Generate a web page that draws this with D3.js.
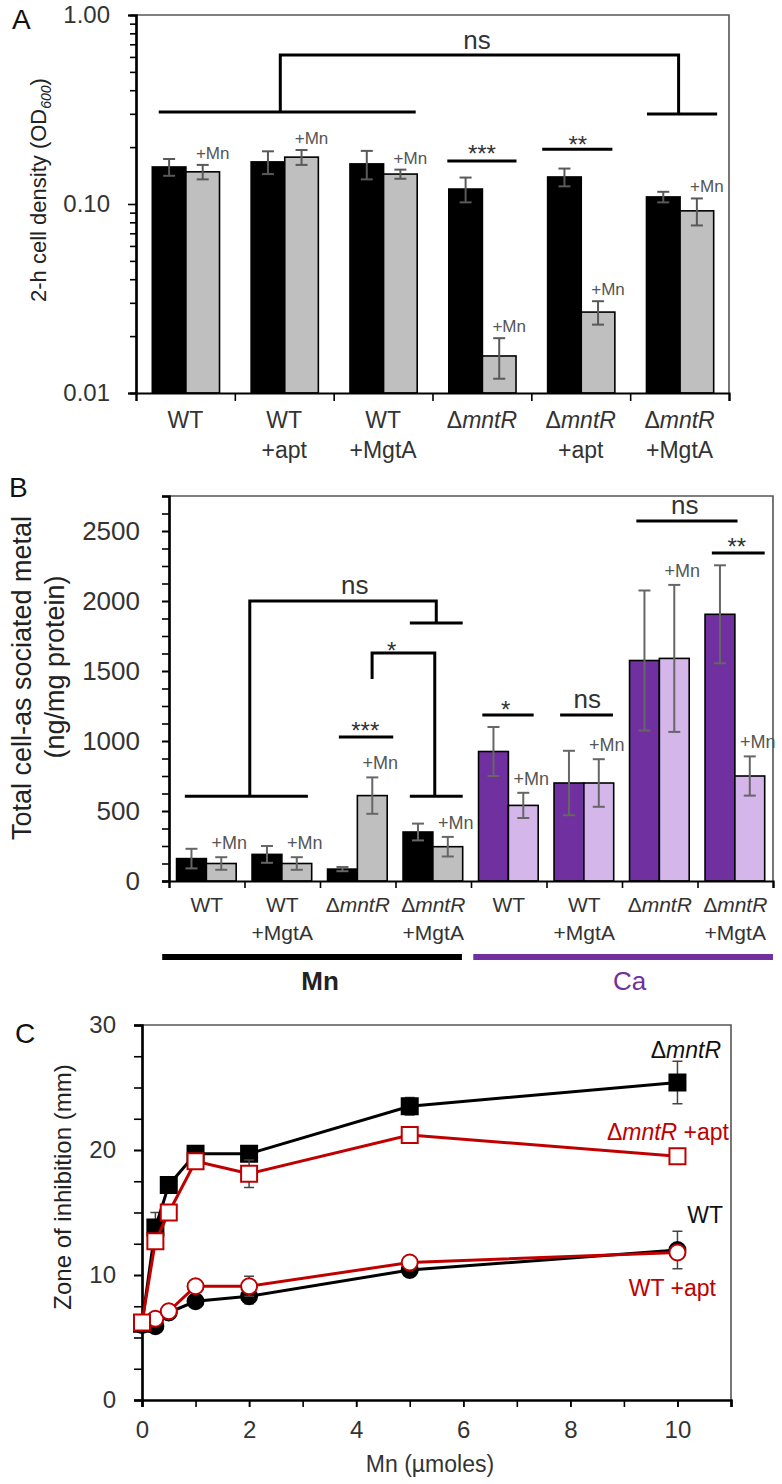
<!DOCTYPE html>
<html><head><meta charset="utf-8">
<script src="https://cdn.jsdelivr.net/npm/d3@7"></script>
<style>
body{margin:0;background:#fff}
text{font-family:"Liberation Sans",Arial,sans-serif}
</style>
</head><body>
<svg id="c" width="782" height="1484"></svg>
<script>
// ---------------- DATA ----------------
// Panel A
const catsA = ["WT","WT +apt","WT +MgtA","ΔmntR","ΔmntR +apt","ΔmntR +MgtA"];
const aNoMn    = [0.157,0.167,0.163,0.120,0.139,0.109];
const aNoMnErr = [0.016,0.023,0.028,0.018,0.015,0.007];
const aMn      = [0.148,0.177,0.144,0.0157,0.0268,0.092];
const aMnErr   = [0.013,0.016,0.008,0.0038,0.0038,0.015];
const aTicksMajor = [0.01,0.1,1];
// Panel B
const catsB  = ["WT","WT +MgtA","ΔmntR","ΔmntR +MgtA","WT","WT +MgtA","ΔmntR","ΔmntR +MgtA"];
const metalB = ["Mn","Mn","Mn","Mn","Ca","Ca","Ca","Ca"];
const bNoMn    = [160,190,85,350,925,700,1575,1905];
const bNoMnErr = [70,60,15,60,175,230,500,350];
const bMn      = [125,125,610,245,540,700,1590,750];
const bMnErr   = [45,45,130,70,90,170,525,140];
const bTicks = [0,500,1000,1500,2000,2500];
// Panel C
const doseC = [0,0.25,0.5,1,2,5,10];
const cMntR       = [6.1,13.8,17.2,19.7,19.7,23.5,25.4];
const cMntRErr    = [0.3,1.2,0.5,0.4,0.6,0.7,1.7];
const cMntRApt    = [6.2,12.7,15.0,19.1,18.1,21.2,19.5];
const cMntRAptErr = [0.3,0.5,0.4,0.5,1.1,0.6,0.5];
const cWT         = [6.0,5.9,7.0,7.9,8.3,10.4,12.0];
const cWTErr      = [0.3,0.3,0.3,0.4,0.6,0.5,1.5];
const cWTApt      = [6.2,6.5,7.1,9.1,9.1,11.0,11.8];
const cWTAptErr   = [0.3,0.3,0.3,0.3,0.8,0.3,0.5];
const cXTicks = [0,2,4,6,8,10];
const cYTicks = [0,10,20,30];

// ---------------- HELPERS ----------------
const svg = d3.select("#c");
const FONT = '"Liberation Sans",Arial,sans-serif';
function rich(sel, str){
  str.split(/(mntR)/).filter(s=>s.length).forEach(p=>{
    sel.append("tspan").attr("font-style", p==="mntR"?"italic":"normal").text(p);
  });
}
function poly(g, pts, color, w){
  g.append("path").attr("d", d3.line()(pts)).attr("fill","none")
   .attr("stroke", color||"#000").attr("stroke-width", w||3).attr("stroke-linejoin","miter");
}
function styleAxis(g, fs){
  g.select(".domain").attr("stroke","#000").attr("stroke-width",2.2);
  g.selectAll(".tick line").attr("stroke","#000").attr("stroke-width",1.6);
  g.selectAll(".tick text").attr("font-size",fs).attr("fill","#333").attr("font-family",FONT);
}
function errBar(g, x, y1, y2, cap, color, w){
  g.append("line").attr("x1",x).attr("x2",x).attr("y1",y1).attr("y2",y2).attr("stroke",color).attr("stroke-width",w);
  [y1,y2].forEach(y=>g.append("line").attr("x1",x-cap/2).attr("x2",x+cap/2).attr("y1",y).attr("y2",y).attr("stroke",color).attr("stroke-width",w));
}

// ---------------- PANEL A ----------------
{
  const A = {l:136, r:729, t:15, b:393};
  const g = svg.append("g");
  const xA = d3.scaleBand().domain(catsA).range([A.l, A.r]);
  const bw = xA.bandwidth();
  const xA1 = d3.scaleBand().domain(["no","mn"]).range([0.165*bw, 0.845*bw]);
  const xU = d3.scaleLinear().domain([0,6]).range([A.l, A.r]);
  const yA = d3.scaleLog().domain([0.01,1]).range([A.b, A.t]);

  // frame
  g.append("path").attr("d", d3.line()([[A.l,A.t],[A.r,A.t],[A.r,A.b]])).attr("fill","none").attr("stroke","#555").attr("stroke-width",1.6);

  catsA.forEach((c,i)=>{
    [["no",aNoMn[i],aNoMnErr[i],"#000"],["mn",aMn[i],aMnErr[i],"#bfbfbf"]].forEach(([s,v,e,col])=>{
      const x = xA(c)+xA1(s);
      g.append("rect").attr("x",x).attr("y",yA(v)).attr("width",xA1.bandwidth()).attr("height",A.b-yA(v))
       .attr("fill",col).attr("stroke","#000").attr("stroke-width",1.6);
    });
  });
  catsA.forEach((c,i)=>{
    [["no",aNoMn[i],aNoMnErr[i]],["mn",aMn[i],aMnErr[i]]].forEach(([s,v,e])=>{
      const cx = xA(c)+xA1(s)+xA1.bandwidth()/2;
      errBar(g, cx, yA(v+e), yA(v-e), 12, "#595959", 2);
    });
    const cx = xA(c)+xA1("mn")+xA1.bandwidth()/2;
    g.append("text").attr("x",cx+10).attr("y",yA(aMn[i]+aMnErr[i])-6).attr("text-anchor","middle")
     .attr("font-size",17).attr("fill","#555").text("+Mn");
  });

  // axes
  const ya = g.append("g").attr("transform",`translate(${A.l},0)`)
    .call(d3.axisLeft(yA).tickValues(aTicksMajor).tickFormat(d3.format(".2f")).tickSize(8).tickPadding(18));
  styleAxis(ya, 24);
  const minor = [];
  [0.01,0.1].forEach(b=>{for(let k=2;k<=9;k++) minor.push(b*k);});
  const ym = g.append("g").attr("transform",`translate(${A.l},0)`)
    .call(d3.axisLeft(yA).tickValues(minor).tickFormat("").tickSize(6));
  styleAxis(ym, 24);
  const xa = g.append("g").attr("transform",`translate(0,${A.b})`)
    .call(d3.axisBottom(xU).tickValues(d3.range(0,7)).tickFormat("").tickSize(8));
  styleAxis(xa, 23);

  catsA.forEach(c=>{
    const lines = c.split(" ");
    lines.forEach((ln,j)=>{
      const t = g.append("text").attr("x",xA(c)+bw/2).attr("y",428+j*30).attr("text-anchor","middle")
        .attr("font-size",23).attr("fill","#333");
      rich(t, ln);
    });
  });

  // y label
  const yl = g.append("text").attr("transform","translate(46,190) rotate(-90)").attr("text-anchor","middle")
    .attr("font-size",22).attr("fill","#222");
  yl.append("tspan").text("2-h cell density (OD");
  yl.append("tspan").attr("font-size",14).attr("font-style","italic").attr("dy",5).text("600");
  yl.append("tspan").attr("dy",-5).text(")");

  // significance
  const y1 = yA(0.614), y2 = yA(0.307), y3 = yA(0.299);
  poly(g, [[xU(0.23),y2],[xU(2.83),y2]]);
  poly(g, [[xU(1.46),y2],[xU(1.46),y1],[xU(5.49),y1],[xU(5.49),y3]]);
  poly(g, [[xU(5.17),y3],[xU(5.88),y3]]);
  g.append("text").attr("x",xU(3.45)).attr("y",y1-6).attr("text-anchor","middle").attr("font-size",26).attr("fill","#333").text("ns");
  const y4 = yA(0.169);
  poly(g, [[xU(3.15),y4],[xU(3.85),y4]]);
  g.append("text").attr("x",xU(3.5)).attr("y",y4+1).attr("text-anchor","middle").attr("font-size",24).attr("fill","#333").text("***");
  const y5 = yA(0.195);
  poly(g, [[xU(4.11),y5],[xU(4.82),y5]]);
  g.append("text").attr("x",xU(4.47)).attr("y",y5+4).attr("text-anchor","middle").attr("font-size",24).attr("fill","#333").text("**");

  g.append("text").attr("x",12).attr("y",29).attr("font-size",28).attr("fill","#111").text("A");
}

// ---------------- PANEL B ----------------
{
  const B = {l:169, r:773, t:496, b:881};
  const g = svg.append("g");
  const xB = d3.scaleBand().domain(d3.range(catsB.length)).range([B.l, B.r]);
  const bw = xB.bandwidth();
  const xB1 = d3.scaleBand().domain(["no","mn"]).range([0.1*bw, 0.89*bw]);
  const xU = d3.scaleLinear().domain([0,8]).range([B.l, B.r]);
  const yB = d3.scaleLinear().domain([0,2750]).range([B.b, B.t]);
  const colors = {Mn:["#000","#bfbfbf"], Ca:["#7030a0","#d4b6ea"]};

  g.append("path").attr("d", d3.line()([[B.l,B.t],[B.r,B.t],[B.r,B.b]])).attr("fill","none").attr("stroke","#555").attr("stroke-width",1.6);

  catsB.forEach((c,i)=>{
    const cols = colors[metalB[i]];
    [["no",bNoMn[i],cols[0]],["mn",bMn[i],cols[1]]].forEach(([s,v,col])=>{
      g.append("rect").attr("x",xB(i)+xB1(s)).attr("y",yB(v)).attr("width",xB1.bandwidth()).attr("height",B.b-yB(v))
       .attr("fill",col).attr("stroke","#000").attr("stroke-width",1.6);
    });
  });
  catsB.forEach((c,i)=>{
    [["no",bNoMn[i],bNoMnErr[i]],["mn",bMn[i],bMnErr[i]]].forEach(([s,v,e])=>{
      const cx = xB(i)+xB1(s)+xB1.bandwidth()/2;
      errBar(g, cx, yB(v+e), yB(v-e), 12, "#666", 2);
    });
    const cx = xB(i)+xB1("mn")+xB1.bandwidth()/2;
    g.append("text").attr("x",cx+8).attr("y",yB(bMn[i]+bMnErr[i])-8).attr("text-anchor","middle")
     .attr("font-size",18).attr("fill","#555").text("+Mn");
  });

  const ya = g.append("g").attr("transform",`translate(${B.l},0)`)
    .call(d3.axisLeft(yB).tickValues(bTicks).tickFormat(d3.format("d")).tickSize(7).tickPadding(22));
  styleAxis(ya, 26);
  const ym = g.append("g").attr("transform",`translate(${B.l},0)`)
    .call(d3.axisLeft(yB).tickValues(d3.range(0,2751,125)).tickFormat("").tickSize(7));
  styleAxis(ym, 26);
  const xa = g.append("g").attr("transform",`translate(0,${B.b})`)
    .call(d3.axisBottom(xU).tickValues(d3.range(0,9)).tickFormat("").tickSize(7));
  styleAxis(xa, 22);

  catsB.forEach((c,i)=>{
    c.split(" ").forEach((ln,j)=>{
      const t = g.append("text").attr("x",xB(i)+bw/2).attr("y",912+j*28).attr("text-anchor","middle")
        .attr("font-size",21).attr("fill","#333");
      rich(t, ln);
    });
  });

  // metal group bars
  g.append("line").attr("x1",xU(-0.09)).attr("x2",xU(3.88)).attr("y1",957).attr("y2",957).attr("stroke","#000").attr("stroke-width",6);
  g.append("line").attr("x1",xU(4.03)).attr("x2",xU(8)).attr("y1",957).attr("y2",957).attr("stroke","#7030a0").attr("stroke-width",6);
  g.append("text").attr("x",xU(2.0)).attr("y",990).attr("text-anchor","middle").attr("font-size",26).attr("font-weight","bold").attr("fill","#222").text("Mn");
  g.append("text").attr("x",xU(6.1)).attr("y",990).attr("text-anchor","middle").attr("font-size",26).attr("fill","#7030a0").text("Ca");

  // y label
  g.append("text").attr("transform","translate(31,678) rotate(-90)").attr("text-anchor","middle")
    .attr("font-size",27).attr("fill","#222").text("Total cell-as sociated metal");
  g.append("text").attr("transform","translate(64,667) rotate(-90)").attr("text-anchor","middle")
    .attr("font-size",27).attr("fill","#222").text("(ng/mg protein)");

  // significance
  const l2000 = yB(2000), l600 = yB(605), l1843 = yB(1843), l1629 = yB(1629), l1443 = yB(1443);
  poly(g, [[xU(0.21),l600],[xU(1.84),l600]]);
  poly(g, [[xU(1.07),l600],[xU(1.07),l2000],[xU(3.54),l2000],[xU(3.54),l1843]]);
  poly(g, [[xU(3.19),l1843],[xU(3.89),l1843]]);
  g.append("text").attr("x",xU(2.46)).attr("y",l2000-7).attr("text-anchor","middle").attr("font-size",26).attr("fill","#333").text("ns");
  poly(g, [[xU(2.69),l1443],[xU(2.69),l1629],[xU(3.52),l1629],[xU(3.52),l600]]);
  poly(g, [[xU(3.19),l600],[xU(3.89),l600]]);
  g.append("text").attr("x",xU(2.95)).attr("y",l1629+6).attr("text-anchor","middle").attr("font-size",24).attr("fill","#333").text("*");
  const l1029 = yB(1029);
  poly(g, [[xU(2.25),l1029],[xU(2.97),l1029]]);
  g.append("text").attr("x",xU(2.6)).attr("y",l1029+2).attr("text-anchor","middle").attr("font-size",24).attr("fill","#333").text("***");
  const l1186 = yB(1186);
  poly(g, [[xU(4.15),l1186],[xU(4.83),l1186]]);
  g.append("text").attr("x",xU(4.46)).attr("y",l1186+3).attr("text-anchor","middle").attr("font-size",24).attr("fill","#333").text("*");
  poly(g, [[xU(5.18),l1186],[xU(5.88),l1186]]);
  g.append("text").attr("x",xU(5.54)).attr("y",l1186-7).attr("text-anchor","middle").attr("font-size",26).attr("fill","#333").text("ns");
  const l2571 = yB(2571), l2343 = yB(2343);
  poly(g, [[xU(6.19),l2571],[xU(7.53),l2571]]);
  g.append("text").attr("x",xU(6.83)).attr("y",l2571-7).attr("text-anchor","middle").attr("font-size",26).attr("fill","#333").text("ns");
  poly(g, [[xU(7.19),l2343],[xU(7.89),l2343]]);
  g.append("text").attr("x",xU(7.52)).attr("y",l2343+2).attr("text-anchor","middle").attr("font-size",24).attr("fill","#333").text("**");

  g.append("text").attr("x",9).attr("y",497).attr("font-size",28).attr("fill","#111").text("B");
}

// ---------------- PANEL C ----------------
{
  const C = {l:142, r:731, t:1025, b:1400};
  const g = svg.append("g");
  const xC = d3.scaleLinear().domain([0,11]).range([C.l, C.r]);
  const yC = d3.scaleLinear().domain([0,30]).range([C.b, C.t]);

  g.append("path").attr("d", d3.line()([[C.l,C.t],[C.r,C.t],[C.r,C.b]])).attr("fill","none").attr("stroke","#555").attr("stroke-width",1.6);

  const ya = g.append("g").attr("transform",`translate(${C.l},0)`)
    .call(d3.axisLeft(yC).tickValues(cYTicks).tickFormat(d3.format("d")).tickSize(8).tickPadding(18));
  styleAxis(ya, 24);
  const ym = g.append("g").attr("transform",`translate(${C.l},0)`)
    .call(d3.axisLeft(yC).tickValues(d3.range(0,30.1,2.5)).tickFormat("").tickSize(8));
  styleAxis(ym, 24);
  const xa = g.append("g").attr("transform",`translate(0,${C.b})`)
    .call(d3.axisBottom(xC).tickValues(cXTicks).tickFormat(d3.format("d")).tickSize(7).tickPadding(14));
  styleAxis(xa, 24);
  const xm = g.append("g").attr("transform",`translate(0,${C.b})`)
    .call(d3.axisBottom(xC).tickValues(d3.range(0,12)).tickFormat("").tickSize(7));
  styleAxis(xm, 24);

  g.append("text").attr("x",430).attr("y",1472).attr("text-anchor","middle").attr("font-size",23).attr("fill","#333").text("Mn (µmoles)");
  g.append("text").attr("transform","translate(71,1187) rotate(-90)").attr("text-anchor","middle")
    .attr("font-size",24).attr("fill","#222").text("Zone of inhibition (mm)");

  const series = [
    {v:cWT, e:cWTErr, color:"#000", fill:"#000", shape:"circle"},
    {v:cMntR, e:cMntRErr, color:"#000", fill:"#000", shape:"square"},
    {v:cWTApt, e:cWTAptErr, color:"#c00000", fill:"#fff", shape:"circle"},
    {v:cMntRApt, e:cMntRAptErr, color:"#c00000", fill:"#fff", shape:"square"}
  ];
  const line = d3.line().x((d,i)=>xC(doseC[i])).y(d=>yC(d));
  series.forEach(s=>{
    s.v.forEach((v,i)=>errBar(g, xC(doseC[i]), yC(v+s.e[i]), yC(v-s.e[i]), 10, "#444", 1.5));
    g.append("path").attr("d", line(s.v)).attr("fill","none").attr("stroke",s.color).attr("stroke-width",3);
    s.v.forEach((v,i)=>{
      if(s.shape==="square"){
        g.append("rect").attr("x",xC(doseC[i])-8).attr("y",yC(v)-8).attr("width",16).attr("height",16)
         .attr("fill",s.fill).attr("stroke",s.color).attr("stroke-width",2);
      } else {
        g.append("circle").attr("cx",xC(doseC[i])).attr("cy",yC(v)).attr("r",8)
         .attr("fill",s.fill).attr("stroke",s.color).attr("stroke-width",2);
      }
    });
  });

  const lab = (x,y,str,col)=>{ const t=g.append("text").attr("x",x).attr("y",y).attr("text-anchor","end").attr("font-size",23).attr("fill",col); rich(t,str); };
  lab(721,1058,"ΔmntR","#111");
  lab(729,1140,"ΔmntR +apt","#c00000");
  lab(723,1223,"WT","#111");
  lab(716,1296,"WT +apt","#c00000");

  g.append("text").attr("x",15).attr("y",1043).attr("font-size",28).attr("fill","#111").text("C");
}
</script>
</body></html>
